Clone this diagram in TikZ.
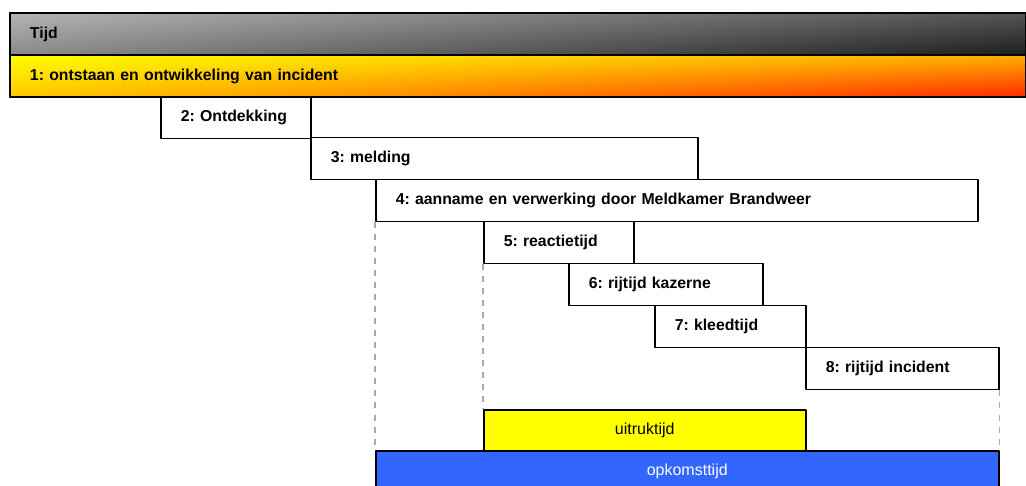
\documentclass[tikz,border=0pt]{standalone}
\usepackage{fontspec}
\setmainfont{Liberation Sans}
\usetikzlibrary{positioning,fadings}
\frenchspacing
% kleuren van de balken (boven- en onderrand, links/midden/rechts)
\definecolor{tijdLB}{HTML}{B5B5B5}
\definecolor{tijdMB}{HTML}{9A9A9A}
\definecolor{tijdRB}{HTML}{555555}
\definecolor{tijdLO}{HTML}{8A8A8A}
\definecolor{tijdMO}{HTML}{4A4A4A}
\definecolor{tijdRO}{HTML}{1E1E1E}
\definecolor{brandLB}{HTML}{FFFF00}
\definecolor{brandMB}{HTML}{FFE800}
\definecolor{brandRB}{HTML}{FFB000}
\definecolor{brandLO}{HTML}{FFC800}
\definecolor{brandMO}{HTML}{FF7A00}
\definecolor{brandRO}{HTML}{FF2A00}
\definecolor{uitrukgeel}{HTML}{FFFF00}
\definecolor{opkomstblauw}{HTML}{3366FF}
\definecolor{hulpgrijs}{HTML}{AAAAAA}
\tikzfading[name=naaronder,top color=transparent!100,bottom color=transparent!0]

\begin{document}
\begin{tikzpicture}[x=1pt,y=-1pt,line join=round,font=\fontsize{15.8}{19}\selectfont\bfseries,
	fase/.style={draw,line width=1.5pt,anchor=north west,minimum height=42,inner xsep=20,inner ysep=0,align=left},
	balk/.style={fase,line width=2pt},
	totaal/.style={draw,line width=1.5pt,anchor=north west,minimum height=42,inner sep=0,font=\fontsize{16}{19}\selectfont},
	hulplijn/.style={draw=hulpgrijs,line width=1.2pt,dash pattern=on 6pt off 6pt}]
	% Kader
	\useasboundingbox (0,0) rectangle (1026,486);
	\clip (0,0) rectangle (1026,486);
	
	% Balken bovenaan
	\node[balk,left color=tijdLB,middle color=tijdMB,right color=tijdRB,
		postaction={path fading=naaronder,left color=tijdLO,middle color=tijdMO,right color=tijdRO},
		postaction={draw,line width=2pt},minimum width=1016,text width=976] (tijd) at (9,12) {Tijd};
	\node[balk,left color=brandLB,middle color=brandMB,right color=brandRB,
		postaction={path fading=naaronder,left color=brandLO,middle color=brandMO,right color=brandRO},
		postaction={draw,line width=2pt},minimum width=1016,text width=976] (incident) at (9,54) {1: ontstaan en ontwikkeling van incident};
	
	% Fasen
	\node[fase,minimum width=150,text width=110] (ontdekking) at (160,96) {2: Ontdekking};
	\node[fase,minimum width=387,text width=347] (melding) at (310,137) {3: melding};
	\node[fase,minimum width=602,text width=562] (aanname) at (375,179) {4: aanname en verwerking door Meldkamer Brandweer};
	\node[fase,minimum width=150,text width=110] (reactie) at (483,221) {5: reactietijd};
	\node[fase,minimum width=194,text width=154] (rijkazerne) at (568,263) {6: rijtijd kazerne};
	\node[fase,minimum width=151,text width=111] (kleed) at (654,305) {7: kleedtijd};
	\node[fase,minimum width=193,text width=153] (rijincident) at (805,347) {8: rijtijd incident};
	
	% Samengestelde tijden
	\node[totaal,fill=uitrukgeel,minimum width=322] (uitruk) at (483,409) {uitruktijd};
	\node[totaal,fill=opkomstblauw,text=white,minimum width=623] (opkomst) at (375,450) {opkomsttijd};
	
	% Hulplijnen
	\draw[hulplijn] (aanname.south west) -- (opkomst.north west);
	\draw[hulplijn] (reactie.south west) -- (uitruk.north west);
	\draw[hulplijn] (rijincident.south east) -- (opkomst.north east);
\end{tikzpicture}
\end{document}
